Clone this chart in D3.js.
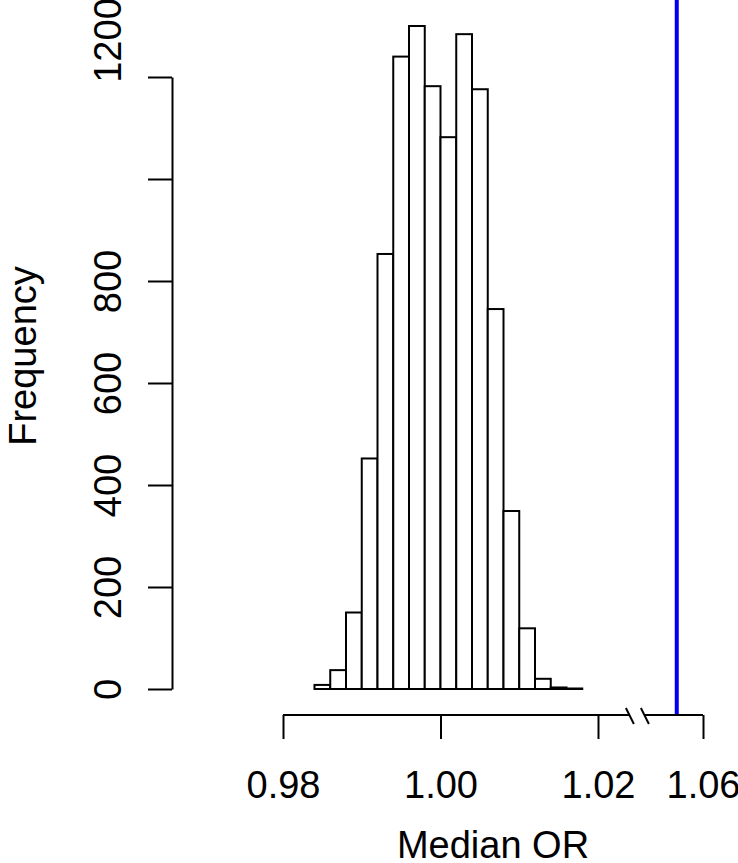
<!DOCTYPE html>
<html>
<head>
<meta charset="utf-8">
<script src="https://cdnjs.cloudflare.com/ajax/libs/d3/7.8.5/d3.min.js"></script>
<style>
    body { margin: 0; background: #fff; }
    svg text { font-family: "Liberation Sans", Arial, sans-serif; font-size: 38px; fill: #000; }
</style>
</head>
<body>
<div id="hist"></div>
<script>
// histogram bins (left edges, width 0.002) and counts
var binStarts = [0.984, 0.986, 0.988, 0.990, 0.992, 0.994, 0.996, 0.998, 1.000,
                 1.002, 1.004, 1.006, 1.008, 1.010, 1.012, 1.014, 1.016];
var binWidth = 0.002;
var counts = [8, 37, 150, 452, 853, 1240, 1300, 1182, 1082, 1284, 1176, 745, 349, 119, 20, 3, 1];

// observed value (blue line)
var observed = [1.05];

// axis ticks
var xTicks = [0.98, 1.00, 1.02, 1.06];
var xTickLabels = ["0.98", "1.00", "1.02", "1.06"];
var yTicks = [0, 200, 400, 600, 800, 1000, 1200];
var yTickLabels = ["0", "200", "400", "600", "800", "", "1200"];

var width = 738, height = 863;
var axisY = 715, axisX = 172;
var fontSize = "38px";

// x scale with a break between 1.02 and 1.06
var xScale = d3.scaleLinear()
    .domain([0.98, 1.02, 1.06])
    .range([283, 598, 703]);

var yScale = d3.scaleLinear()
    .domain([0, 1200])
    .range([689, 77]);

var svg = d3.select("#hist").append("svg")
    .attr("width", width)
    .attr("height", height);

// bars
svg.selectAll(".bar")
    .data(counts)
    .enter().append("rect")
    .attr("class", "bar")
    .attr("x", (d, i) => xScale(binStarts[i]))
    .attr("width", (d, i) => xScale(binStarts[i] + binWidth) - xScale(binStarts[i]))
    .attr("y", d => yScale(d))
    .attr("height", d => yScale(0) - yScale(d))
    .style("fill", "#fff")
    .style("stroke", "#000")
    .style("stroke-width", 2);

// blue observed line
svg.selectAll(".obs")
    .data(observed)
    .enter().append("line")
    .attr("class", "obs")
    .attr("x1", d => xScale(d))
    .attr("x2", d => xScale(d))
    .attr("y1", 0)
    .attr("y2", axisY)
    .style("stroke", "#0000ee")
    .style("stroke-width", 4);

// x axis
var xAxis = svg.append("g")
    .attr("class", "x axis")
    .attr("transform", "translate(0," + axisY + ")")
    .call(d3.axisBottom(xScale)
        .tickValues(xTicks)
        .tickFormat((d, i) => xTickLabels[i])
        .tickSize(24)
        .tickSizeOuter(0)
        .tickPadding(32));
xAxis.select(".domain").remove();
xAxis.selectAll("line").style("stroke-width", 2);
xAxis.selectAll("text").style("font-size", fontSize).style("font-family", "Liberation Sans, Arial, sans-serif");

// axis line drawn in two pieces around the break
var breakAt = 1.035, gap = 7.5;
var xSegs = [[xScale(0.98), xScale(breakAt) - gap], [xScale(breakAt) + gap, xScale(1.06)]];
xAxis.selectAll(".seg")
    .data(xSegs)
    .enter().append("line")
    .attr("class", "seg")
    .attr("x1", d => d[0])
    .attr("x2", d => d[1])
    .style("stroke", "#000")
    .style("stroke-width", 2);

// break marks  \ \
xAxis.selectAll(".brk")
    .data([-1, 1])
    .enter().append("line")
    .attr("class", "brk")
    .attr("x1", d => xScale(breakAt) + d * gap - 4)
    .attr("x2", d => xScale(breakAt) + d * gap + 4)
    .attr("y1", -7)
    .attr("y2", 9)
    .style("stroke", "#000")
    .style("stroke-width", 2);

// y axis
var yAxis = svg.append("g")
    .attr("class", "y axis")
    .attr("transform", "translate(" + axisX + ",0)")
    .call(d3.axisLeft(yScale)
        .tickValues(yTicks)
        .tickFormat((d, i) => yTickLabels[i])
        .tickSize(24)
        .tickSizeOuter(0));
yAxis.select(".domain").style("stroke-width", 2);
yAxis.selectAll("line").style("stroke-width", 2);
yAxis.selectAll("text")
    .attr("x", null)
    .attr("dy", null)
    .attr("text-anchor", "middle")
    .attr("transform", d => "translate(-51," + (d === 1200 ? -37 : 0) + ") rotate(-90)")
    .style("font-size", fontSize)
    .style("font-family", "Liberation Sans, Arial, sans-serif");

// axis titles
svg.append("text")
    .attr("x", (xScale(0.98) + xScale(1.06)) / 2)
    .attr("y", 858)
    .attr("text-anchor", "middle")
    .text("Median OR");

svg.append("text")
    .attr("transform", "translate(36,356) rotate(-90)")
    .attr("text-anchor", "middle")
    .text("Frequency");
</script>
</body>
</html>
